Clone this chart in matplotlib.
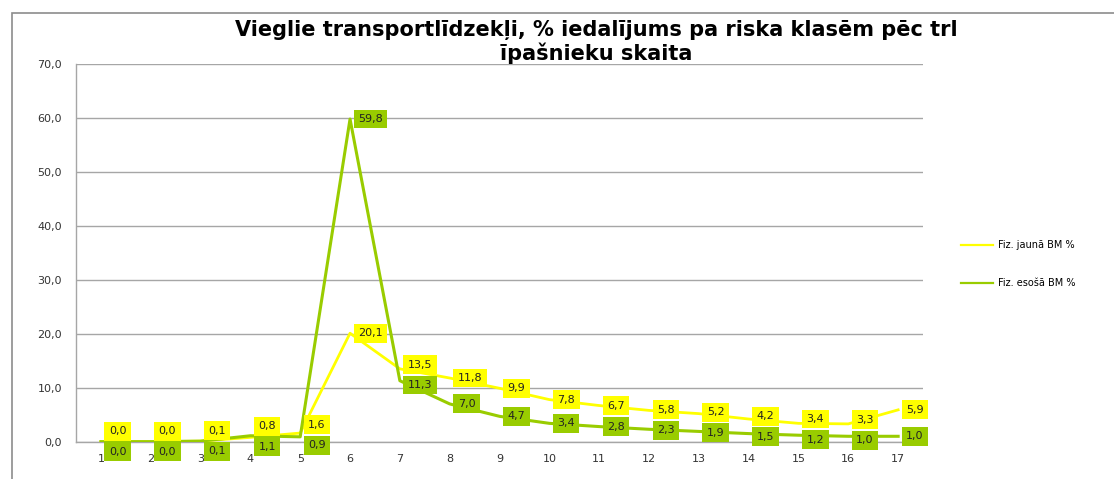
import numpy as np
import matplotlib
matplotlib.use('Agg')
import matplotlib.pyplot as plt
from matplotlib.patches import Rectangle
from matplotlib.ticker import FuncFormatter

klases = list(range(1, 18))
jauna = [0.0, 0.0, 0.1, 0.8, 1.6, 20.1, 13.5, 11.8, 9.9, 7.8, 6.7, 5.8, 5.2, 4.2, 3.4, 3.3, 5.9]
esosa = [0.0, 0.0, 0.1, 1.1, 0.9, 59.8, 11.3, 7.0, 4.7, 3.4, 2.8, 2.3, 1.9, 1.5, 1.2, 1.0, 1.0]

dzeltena = '#FFFF00'
zala = '#99CC00'
peleka = '#A6A6A6'

fig = plt.figure(figsize=(11.14, 4.79), dpi=100)
ax = fig.add_axes([0.0682, 0.0779, 0.7604, 0.7885])

# ārējais rāmis
fig.patches.append(Rectangle((12 / 1114, -0.05), 1.1, 1 - 13 / 479 + 0.05,
                             transform=fig.transFigure, fill=False,
                             edgecolor='#8C8C8C', lw=1.2, zorder=0))

ax.plot(klases, jauna, color=dzeltena, lw=2, label='Fiz. jaunā BM %', zorder=3)
ax.plot(klases, esosa, color=zala, lw=2.2, label='Fiz. esošā BM %', zorder=3)

ax.set_xlim(0.5, 17.5)
ax.set_ylim(0, 70)
ax.set_yticks(np.arange(0, 71, 10))
ax.set_xticks(klases)
ax.yaxis.set_major_formatter(FuncFormatter(lambda v, p: f'{v:.1f}'.replace('.', ',')))
ax.tick_params(length=0, labelsize=8, colors='#333333', pad=10)
ax.tick_params(axis='x', pad=9)
ax.grid(axis='y', color=peleka, lw=1)
ax.set_axisbelow(True)
for s in ['top', 'right']:
    ax.spines[s].set_visible(False)
for s in ['left', 'bottom']:
    ax.spines[s].set_color(peleka)
    ax.spines[s].set_linewidth(1)

# datu etiķetes: ja pārklājas, izvieto vienu virs otras
h = 3.8
for x, a, b in zip(klases, jauna, esosa):
    ya, yb = a, b
    if abs(a - b) < h:
        mid = (a + b) / 2
        ya, yb = mid + h / 2, mid - h / 2
    for y, v, c in [(ya, a, dzeltena), (yb, b, zala)]:
        ax.annotate(f'{v:.1f}'.replace('.', ','), xy=(x, y), xytext=(8, 0),
                    textcoords='offset pixels', ha='left', va='center',
                    fontsize=8, color='#222222', annotation_clip=False,
                    bbox=dict(boxstyle='square,pad=0.4', fc=c, ec='none'),
                    zorder=5)

leg = ax.legend(loc='center left', bbox_to_anchor=(1.035, 0.47), frameon=False,
                fontsize=7, labelspacing=2.9, handlelength=3.2, handletextpad=0.6)
for ln in leg.get_lines():
    ln.set_linewidth(1.6)

fig.text(0.535, 0.912, 'Vieglie transportlīdzekļi, % iedalījums pa riska klasēm pēc trl\nīpašnieku skaita',
         ha='center', va='center', fontsize=15, fontweight='bold', linespacing=1.15)

fig.savefig('out.png', dpi=100)
